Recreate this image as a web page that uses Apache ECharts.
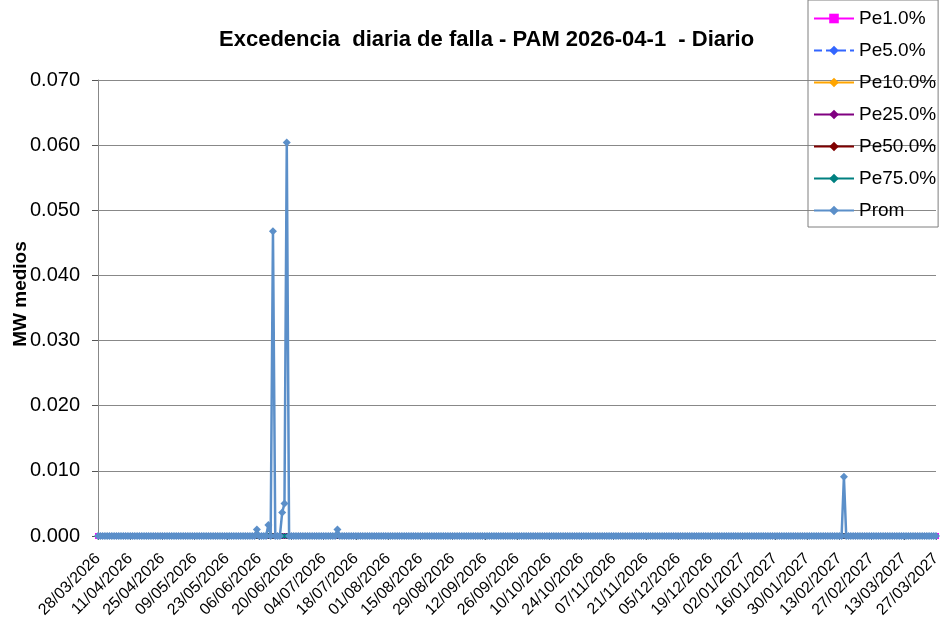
<!DOCTYPE html>
<html lang="es">
<head>
    <meta charset="UTF-8">
    <title>Excedencia diaria de falla</title>
    <script src="https://cdn.jsdelivr.net/npm/echarts@6/dist/echarts.min.js"></script>
    <style>
        body { margin: 0; background: #fff; }
        #chart { width: 940px; height: 619px; }
    </style>
</head>
<body>
<div id="chart"></div>
<script>
    // fechas diarias 28/03/2026 .. 27/03/2027
    var startDate = new Date(2026, 2, 28);
    var nDays = 365;
    var dates = [];
    for (var i = 0; i < nDays; i++) {
        var d = new Date(startDate.getFullYear(), startDate.getMonth(), startDate.getDate() + i);
        var dd = ('0' + d.getDate()).slice(-2);
        var mm = ('0' + (d.getMonth() + 1)).slice(-2);
        dates.push(dd + '/' + mm + '/' + d.getFullYear());
    }

    // días con valor distinto de cero en la serie Prom (resto = 0)
    var promPeaks = [
        ['05/06/2026', 0.0010],
        ['10/06/2026', 0.0017],
        ['12/06/2026', 0.0468],
        ['16/06/2026', 0.0036],
        ['17/06/2026', 0.0050],
        ['18/06/2026', 0.0604],
        ['10/07/2026', 0.0010],
        ['15/02/2027', 0.0091]
    ];

    // percentiles: todos en cero en el periodo
    var seriesNames = ['Pe1.0%', 'Pe5.0%', 'Pe10.0%', 'Pe25.0%', 'Pe50.0%', 'Pe75.0%', 'Prom'];
    var seriesColors = ['#ff00ff', '#3366ff', '#ffa500', '#800080', '#800000', '#008080', '#5b8fc9'];
    var seriesSymbols = ['rect', 'diamond', 'diamond', 'diamond', 'diamond', 'diamond', 'diamond'];

    var yTicks = [0, 0.01, 0.02, 0.03, 0.04, 0.05, 0.06, 0.07];

    function zeros() {
        var a = [];
        for (var i = 0; i < nDays; i++) a.push(0);
        return a;
    }

    var promData = zeros();
    promPeaks.forEach(function (p) {
        var idx = dates.indexOf(p[0]);
        if (idx >= 0) promData[idx] = p[1];
    });

    var series = seriesNames.map(function (name, k) {
        var isProm = name === 'Prom';
        return {
            name: name,
            type: 'line',
            data: isProm ? promData : zeros(),
            symbol: seriesSymbols[k],
            symbolSize: isProm ? 8 : 6,
            showSymbol: true,
            showAllSymbol: true,
            color: seriesColors[k],
            lineStyle: {
                width: isProm ? 2.5 : 2,
                type: name === 'Pe5.0%' ? 'dashed' : 'solid'
            },
            itemStyle: { color: seriesColors[k] },
            emphasis: { disabled: true },
            z: 2 + k
        };
    });

    var mychart = echarts.init(document.getElementById('chart'));
    var option = {
        animation: false,
        backgroundColor: '#fff',
        textStyle: { fontFamily: 'Liberation Sans, Arial, sans-serif', color: '#000' },
        title: {
            text: 'Excedencia  diaria de falla - PAM 2026-04-1  - Diario',
            left: 214,
            top: 24,
            textStyle: { fontSize: 22, fontWeight: 'bold', color: '#000', fontFamily: 'Liberation Sans, Arial, sans-serif' }
        },
        legend: {
            orient: 'vertical',
            left: 808,
            top: 0,
            padding: [9, 2, 7, 5],
            borderColor: '#7f7f7f',
            borderWidth: 1,
            itemWidth: 40,
            itemHeight: 12,
            itemGap: 13,
            data: seriesNames,
            textStyle: { fontSize: 19, lineHeight: 19, color: '#000', fontFamily: 'Liberation Sans, Arial, sans-serif' }
        },
        grid: {
            left: 98,
            right: 4,
            top: 80,
            bottom: 83,
            containLabel: false,
            outerBoundsMode: 'none'
        },
        xAxis: {
            type: 'category',
            data: dates,
            boundaryGap: false,
            axisLine: { lineStyle: { color: '#888' } },
            axisTick: { show: true, interval: 13, length: 4, lineStyle: { color: '#555' } },
            axisLabel: {
                interval: 13,
                rotate: 45,
                fontSize: 16,
                margin: 20,
                color: '#000'
            },
            splitLine: { show: false }
        },
        yAxis: {
            type: 'value',
            min: yTicks[0],
            max: yTicks[yTicks.length - 1],
            interval: 0.01,
            name: 'MW medios',
            nameLocation: 'middle',
            nameGap: 68,
            nameMoveOverlap: false,
            nameTextStyle: { fontSize: 19, fontWeight: 'bold', color: '#000', padding: [0, 0, 0, 28] },
            axisLine: { show: true, lineStyle: { color: '#888' } },
            axisTick: { show: true, length: 6, lineStyle: { color: '#555' } },
            axisLabel: {
                fontSize: 20,
                margin: 18,
                color: '#000',
                formatter: function (v) { return v.toFixed(3); }
            },
            splitLine: { show: true, lineStyle: { color: '#888', width: 1 } }
        },
        series: series
    };
    mychart.setOption(option);
</script>
</body>
</html>
